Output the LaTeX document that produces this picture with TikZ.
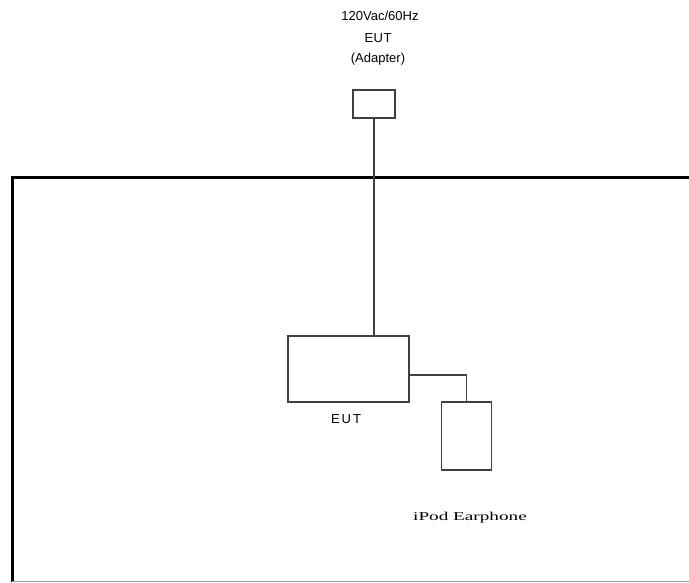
\documentclass[tikz,border=0pt]{standalone}
\usepackage{fontspec}
\setmainfont{Liberation Sans}
\newfontfamily\serifface{Liberation Serif}
\begin{document}
\begin{tikzpicture}[x=1pt,y=-1pt,
  box/.style={draw=black!75,line width=1.3pt,inner sep=0pt,minimum width=0pt},
  wire/.style={draw=black!75,line width=1.3pt},
  frame/.style={draw=black,line width=3pt},
  lbl/.style={inner sep=0pt,font=\fontsize{13}{15}\selectfont}]
\useasboundingbox (0,0) rectangle (689,582);
% labels top
\node[lbl] (t1) at (380,16) {120Vac/60Hz};
\node[lbl] (t2) at (378,38) {E\kern0.5pt U\kern0.5pt T};
\node[lbl] (t3) at (378,59) {(Adapter)};
% adapter box
\node[box,minimum width=42pt,minimum height=28pt] (adp) at (374,104) {};
% frame
\coordinate (fl) at (12,582);
\coordinate (fc) at (12,177);
\coordinate (fr) at (689,177);
\draw[frame,line join=miter] (fl) -- (fc) -- (fr);
\coordinate (bl) at (12,581);
\coordinate (br) at (689,581);
\draw[draw=black!40,line width=1pt] (bl) -- (br);
% EUT box
\node[box,minimum width=121pt,minimum height=66pt] (eut) at (348.5,369) {};
\node[lbl] (eutl) at (346,419) {E\kern2pt U\kern2pt T};
% iPod box
\node[box,minimum width=50pt,minimum height=68pt] (ipod) at (466.5,436) {};
\node[inner sep=0pt,font=\serifface\fontsize{12}{14}\selectfont,xscale=1.6] (ipl) at (470,518) {iPod Earphone};
% wires
\draw[wire] (adp.south) -- (adp.south |- eut.north);
\draw[wire] (eut.east |- 0,375) -| (ipod.north);
\end{tikzpicture}
\end{document}
